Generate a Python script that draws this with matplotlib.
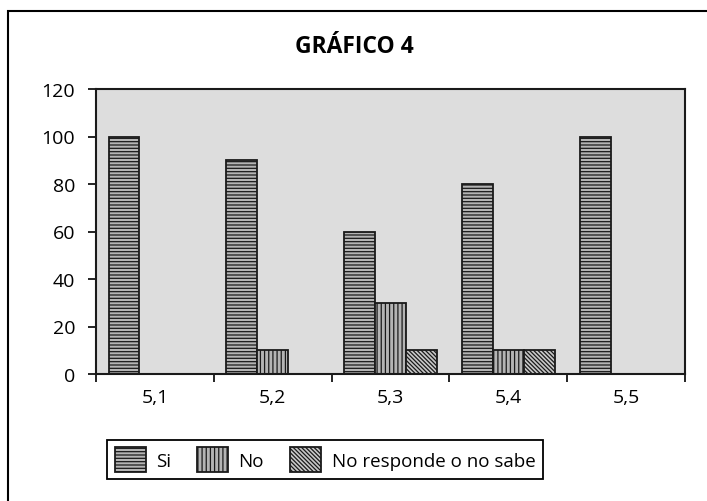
import matplotlib.pyplot as plt
from matplotlib.patches import Rectangle
import numpy as np

plt.rcParams['font.family'] = ['Open Sans', 'DejaVu Sans']
plt.rcParams['hatch.linewidth'] = 0.9
plt.rcParams['hatch.color'] = '#1a1a1a'

categories = ['5,1', '5,2', '5,3', '5,4', '5,5']
si = [100, 90, 60, 80, 100]
no = [0, 10, 30, 10, 0]
ns = [0, 0, 10, 10, 0]
series = ['Si', 'No', 'No responde o no sabe']
title = 'GRÁFICO 4'

fig = plt.figure(figsize=(7.07, 5.02), dpi=100)
# outer chart frame
fig.patches.append(Rectangle((8/707, -0.02), 1.05, 0.976 + 0.02, transform=fig.transFigure,
                             fill=False, edgecolor='black', linewidth=1.5))

ax = fig.add_axes([96/707, 1-375/502, (685-96)/707, (375-90)/502])
ax.set_facecolor('#dddddd')

x = np.arange(len(categories))
w = 0.262
styles = [('-----', '#b4b4b4'), ('||||', '#b4b4b4'), ('\\\\\\\\\\\\\\\\', '#c8c8c8')]
handles = []
for k, vals in enumerate([si, no, ns]):
    h = ax.bar(x + (k - 1) * w, vals, width=w, facecolor=styles[k][1], hatch=styles[k][0],
               edgecolor='#1a1a1a', linewidth=1.3, label=series[k])
    handles.append(h)

ax.set_xlim(-0.5, len(categories) - 0.5)
ax.set_ylim(0, 120)
ax.set_yticks(range(0, 121, 20))
ax.set_xticks(np.arange(-0.5, len(categories)), minor=False)
ax.set_xticklabels([])
ax.set_xticks(x, minor=True)
ax.set_xticklabels(categories, minor=True)
ax.tick_params(axis='x', which='minor', length=0, pad=10, labelsize=14)
ax.tick_params(axis='x', which='major', length=6, width=1.2, direction='out')
ax.tick_params(axis='y', length=6, width=1.2, direction='out', labelsize=14, pad=9)
for s in ax.spines.values():
    s.set_linewidth(1.5)
    s.set_color('#1a1a1a')

fig.text(354/707, 1-47/502, title, ha='center', va='center', fontsize=16.5, fontweight='bold')

leg = fig.legend(handles=handles, loc='center', bbox_to_anchor=(325/707, 1-460.5/502), ncol=3,
                 fontsize=13.5, frameon=True, fancybox=False, framealpha=1, edgecolor='black',
                 handlelength=1.65, handleheight=1.65, handletextpad=0.55, columnspacing=1.4,
                 borderpad=0.4, borderaxespad=0)
leg.get_frame().set_linewidth(1.3)

fig.savefig('out.png', dpi=100)
